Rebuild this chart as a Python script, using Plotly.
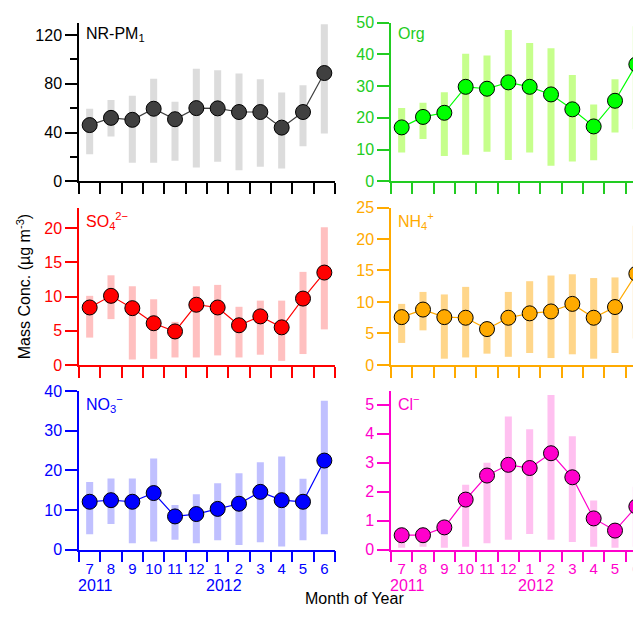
import plotly.graph_objects as go
from plotly.subplots import make_subplots

# meses (jul 2011 - jun 2012)
months = ['7', '8', '9', '10', '11', '12', '1', '2', '3', '4', '5', '6']
years = ['2011', '2012']
year_start = ['7', '1']

nrpm1_mean = [46.1, 52.0, 50.4, 59.5, 50.9, 60.0, 59.8, 56.8, 56.8, 44.0, 56.8, 88.8]
nrpm1_low = [22.1, 36.8, 15.2, 15.2, 16.8, 11.2, 16.0, 9.1, 12.0, 10.4, 28.8, 39.2]
nrpm1_high = [59.5, 66.7, 70.1, 84.0, 65.3, 92.3, 91.0, 88.5, 83.7, 72.8, 78.7, 128.8]

org_mean = [17.0, 20.3, 21.6, 29.8, 29.2, 31.2, 29.8, 27.4, 22.7, 17.3, 25.4, 36.9]
org_low = [9.1, 13.3, 8.0, 8.4, 9.3, 6.7, 9.1, 4.9, 6.2, 6.6, 15.4, 16.4]
org_high = [23.1, 24.8, 28.1, 40.2, 39.7, 47.7, 43.6, 42.0, 33.5, 24.2, 32.2, 48.9]

so4_mean = [8.4, 10.1, 8.3, 6.1, 4.9, 8.8, 8.4, 5.8, 7.1, 5.5, 9.7, 13.5]
so4_low = [4.0, 6.7, 0.8, 0.9, 1.1, 1.1, 1.4, 1.1, 1.5, 0.6, 1.6, 5.2]
so4_high = [10.1, 13.1, 11.5, 9.6, 6.3, 11.5, 11.7, 8.5, 9.4, 9.4, 13.6, 20.1]

nh4_mean = [7.6, 8.8, 7.6, 7.5, 5.7, 7.5, 8.2, 8.5, 9.7, 7.5, 9.2, 14.5]
nh4_low = [3.5, 5.5, 1.0, 1.2, 1.8, 1.3, 1.9, 1.1, 1.7, 1.0, 1.9, 4.2]
nh4_high = [9.7, 11.6, 11.2, 12.4, 6.8, 11.6, 13.3, 14.2, 14.4, 13.8, 13.9, 22.1]

no3_mean = [12.1, 12.5, 12.1, 14.3, 8.4, 9.0, 10.3, 11.6, 14.6, 12.5, 12.1, 22.5]
no3_low = [3.9, 6.5, 1.6, 2.1, 2.5, 1.6, 2.4, 1.2, 1.9, 0.8, 2.4, 3.9]
no3_high = [17.1, 18.0, 18.0, 23.0, 11.3, 14.0, 16.8, 19.3, 22.1, 23.5, 17.9, 37.6]

cl_mean = [0.50, 0.50, 0.77, 1.73, 2.56, 2.93, 2.82, 3.33, 2.50, 1.08, 0.66, 1.49]
cl_low = [0.07, 0.10, 0.07, 0.10, 0.22, 0.34, 0.54, 0.34, 0.27, 0.10, 0.07, 0.10]
cl_high = [0.60, 0.60, 0.95, 2.24, 3.00, 4.60, 4.16, 5.34, 3.92, 1.70, 0.75, 2.17]

# la pagina tiene 8px de margen en el body
OFF = 8
W, H = 641 - OFF, 618 - OFF
FONT = 'Liberation Sans, Arial, sans-serif'

# (etiqueta, media, min, max, color eje, color marcador, color barra, rango y, dtick, fila, col)
paneles = [
    ('NR-PM<sub>1</sub>', nrpm1_mean, nrpm1_low, nrpm1_high, '#000000', '#404040', '#dcdcdc', 130, 40, 1, 1),
    ('Org', org_mean, org_low, org_high, '#22cc22', '#00ff00', '#c6ff8c', 50, 10, 1, 2),
    ('SO<sub>4</sub><sup>2−</sup>', so4_mean, so4_low, so4_high, '#ff0000', '#ff0000', '#ffc0c0', 23, 5, 2, 1),
    ('NH<sub>4</sub><sup>+</sup>', nh4_mean, nh4_low, nh4_high, '#ffaa00', '#ffaa00', '#ffd68a', 25, 5, 2, 2),
    ('NO<sub>3</sub><sup>−</sup>', no3_mean, no3_low, no3_high, '#0000ff', '#0000ff', '#c0c0ff', 40, 10, 3, 1),
    ('Cl<sup>−</sup>', cl_mean, cl_low, cl_high, '#ff00cc', '#ff00cc', '#ffc0f0', 5.47, 1, 3, 2),
]

fig = make_subplots(rows=3, cols=2)

x_pos = list(range(len(months)))
bordes = [i - 0.5 for i in range(len(months) + 1)]

# dominios en pixeles (coordenadas de la pantalla)
x_dom = {1: (79, 335), 2: (391, 641)}
y_dom = {1: (15, 178), 2: (205, 367), 3: (394, 557)}
px_mes = (335 - 79) / len(months)


def fx(px):
    return (px - OFF) / W


def fy(px):
    return 1 - (px - OFF) / H


for etiqueta, media, bajo, alto, c_eje, c_mark, c_bar, ymax, dt, fila, col in paneles:
    fig.add_trace(go.Bar(
        x=x_pos, y=[a - b for a, b in zip(alto, bajo)], base=bajo,
        width=0.33, marker=dict(color=c_bar, line=dict(width=0)),
        showlegend=False, hoverinfo='skip'
    ), row=fila, col=col)
    fig.add_trace(go.Scatter(
        x=x_pos, y=media, mode='lines+markers',
        line=dict(color=c_mark, width=1.2),
        marker=dict(size=15, color=c_mark, line=dict(color='black', width=1)),
        cliponaxis=False, showlegend=False
    ), row=fila, col=col)

    x0, x1 = x_dom[col]
    y0, y1 = y_dom[fila]
    xr_max = -0.5 + (x1 - x0) / px_mes
    bottom = fila == 3
    fig.update_xaxes(
        domain=[fx(x0), min(fx(x1), 1.0)], range=[-0.5, xr_max],
        showline=True, linecolor=c_eje, linewidth=1.5,
        tickvals=x_pos, ticktext=months, ticks='outside', ticklen=5,
        tickcolor='rgba(0,0,0,0)', showticklabels=bottom,
        ticklabeloverflow='allow',
        minor=dict(tickvals=bordes, ticks='outside', ticklen=11, tickcolor=c_eje, tickwidth=1.5),
        tickfont=dict(color=c_eje, size=15, family=FONT),
        showgrid=False, zeroline=False, fixedrange=True,
        row=fila, col=col)
    fig.update_yaxes(
        domain=[fy(y1), fy(y0)], range=[0, ymax], dtick=dt, tick0=0,
        showline=True, linecolor=c_eje, linewidth=1.5,
        ticks='outside', ticklen=12, tickcolor=c_eje, tickwidth=1.5,
        tickfont=dict(color=c_eje, size=16, family=FONT),
        showgrid=False, zeroline=False, fixedrange=True,
        row=fila, col=col)
    if fila == 1 and col == 1:
        fig.update_yaxes(minor=dict(dtick=dt / 2, ticks='outside', ticklen=7,
                                    tickcolor=c_eje, tickwidth=1.5),
                         row=fila, col=col)

    n = (fila - 1) * 2 + col
    sfx = '' if n == 1 else str(n)
    fig.add_annotation(
        text=etiqueta, xref=f'x{sfx} domain', yref=f'y{sfx} domain',
        x=0.02, y=1.0, xanchor='left', yanchor='top', showarrow=False,
        font=dict(color=c_eje, size=16, family=FONT))
    if bottom:
        for anio, mes in zip(years, year_start):
            fig.add_annotation(
                text=anio, xref=f'x{sfx}', yref='paper',
                x=months.index(mes) - 0.5, y=fy(594),
                xanchor='left', yanchor='middle', showarrow=False,
                xshift=-3,
                font=dict(color=c_eje, size=16, family=FONT))

fig.add_annotation(
    text='Mass Conc. (µg m<sup>-3</sup>)', xref='paper', yref='paper',
    x=fx(24), y=fy(287), textangle=-90, showarrow=False,
    xanchor='center', yanchor='middle',
    font=dict(color='black', size=16, family=FONT))
fig.add_annotation(
    text='Month of Year', xref='paper', yref='paper',
    x=fx(354), y=0, showarrow=False,
    xanchor='center', yanchor='bottom',
    font=dict(color='black', size=16, family=FONT))

fig.update_layout(
    width=W, height=H,
    margin=dict(l=0, r=0, t=0, b=0),
    paper_bgcolor='white', plot_bgcolor='white',
    barmode='overlay', showlegend=False,
    font=dict(family=FONT)
)

fig.write_html('out.html')
